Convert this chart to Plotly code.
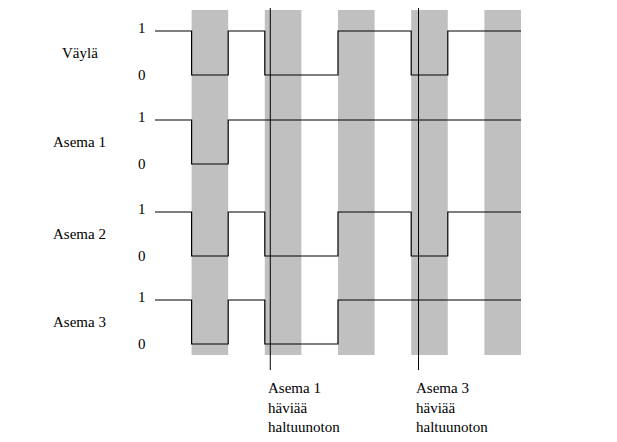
import plotly.graph_objects as go

# time in bit periods, signal levels 0/1
names = ["Väylä", "Asema 1", "Asema 2", "Asema 3"]
times = [0, 1, 2, 3, 5, 7, 8, 10]
signals = {
    "Väylä":   [1, 0, 1, 0, 1, 0, 1, 1],
    "Asema 1": [1, 0, 1, 1, 1, 1, 1, 1],
    "Asema 2": [1, 0, 1, 0, 1, 0, 1, 1],
    "Asema 3": [1, 0, 1, 0, 1, 1, 1, 1],
}
gray_bars = [(1, 2), (3, 4), (5, 6), (7, 8), (9, 10)]
markers = [3.15, 7.2]
marker_texts = ["Asema 1<br>häviää<br>haltuunoton", "Asema 3<br>häviää<br>haltuunoton"]

row_top = [31, 120, 212, 300]   # pixel y of level 1
swing = 44
px_per_t = 36.6
x0 = 147

fig = go.Figure()
font = dict(family="Liberation Serif", size=15, color="black")

for (a, b) in gray_bars:
    fig.add_shape(type="rect", x0=a, x1=b, y0=10, y1=355, fillcolor="#c0c0c0",
                  line_width=0, layer="below")

for name, top in zip(names, row_top):
    ys = [top + (1 - v) * swing for v in signals[name]]
    fig.add_trace(go.Scatter(x=times, y=ys, mode="lines", line_shape="hv",
                             line=dict(color="black", width=1.2), showlegend=False))
    fig.add_annotation(x=-2.05, y=top + swing / 2, text=name, showarrow=False,
                       xanchor="center", font=font)
    fig.add_annotation(x=-0.35, y=top - 3, text="1", showarrow=False, font=font)
    fig.add_annotation(x=-0.35, y=top + swing, text="0", showarrow=False, font=font)

for m, txt in zip(markers, marker_texts):
    fig.add_shape(type="line", x0=m, x1=m, y0=8, y1=370, line=dict(color="black", width=1))
    fig.add_annotation(x=m - 0.12, y=378, text=txt, showarrow=False, xanchor="left",
                       yanchor="top", align="left", font=font)

fig.update_xaxes(range=[-x0 / px_per_t, (617 - x0) / px_per_t], visible=False)
fig.update_yaxes(range=[450, 8], visible=False)
fig.update_layout(width=617, height=442, margin=dict(l=0, r=0, t=0, b=0),
                  plot_bgcolor="white", paper_bgcolor="white")
fig.write_html("out.html")
